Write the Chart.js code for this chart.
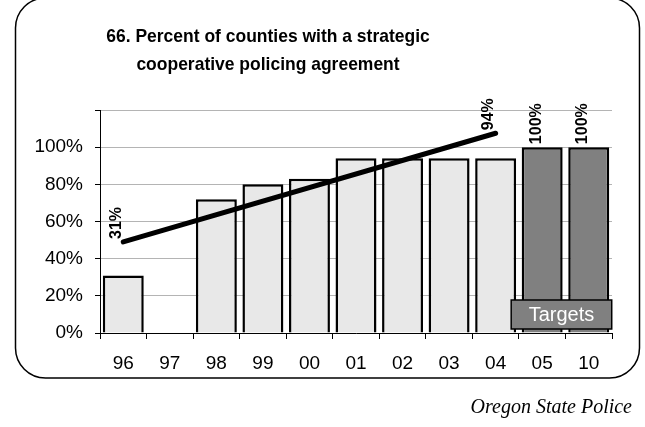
<!DOCTYPE html>
<html>
<head>
<meta charset="utf-8">
<script src="https://cdn.jsdelivr.net/npm/chart.js@4/dist/chart.umd.min.js"></script>
<style>
  html, body { margin: 0; padding: 0; background: #fff; }
  canvas { display: block; }
</style>
</head>
<body>
<canvas id="chart" width="645" height="427"></canvas>
<script>
const years = ['96', '97', '98', '99', '00', '01', '02', '03', '04', '05', '10'];
const actual = [31, null, 72, 80, 83, 94, 94, 94, 94, null, null];
const targets = [null, null, null, null, null, null, null, null, null, 100, 100];
const trend = [49, null, null, null, null, null, null, null, 107.5, null, null];
const valueLabels = ['31%', '', '', '', '', '', '', '', '94%', '100%', '100%'];
const yTicks = [0, 20, 40, 60, 80, 100];

const titleLines = ['66. Percent of counties with a strategic', 'cooperative policing agreement'];
const sourceText = 'Oregon State Police';

// frame, title, value labels, targets box, source line
const decorations = {
    id: 'decorations',
    beforeDraw(chart) {
        const ctx = chart.ctx;
        ctx.save();
        ctx.fillStyle = '#fff';
        ctx.fillRect(0, 0, chart.width, chart.height);
        ctx.strokeStyle = '#000';
        ctx.lineWidth = 1.5;
        ctx.beginPath();
        ctx.roundRect(15.5, -2, 624, 380, 30);
        ctx.stroke();

        // title is a bit condensed in the original
        ctx.fillStyle = '#000';
        ctx.font = 'bold 19px "Liberation Sans", Arial, sans-serif';
        ctx.textAlign = 'center';
        ctx.textBaseline = 'middle';
        ctx.save();
        ctx.translate(268, 0);
        ctx.scale(0.92, 1);
        ctx.fillText(titleLines[0], 0, 37);
        ctx.fillText(titleLines[1], 0, 65);
        ctx.restore();

        ctx.font = 'italic 20px "Liberation Serif", "Times New Roman", serif';
        ctx.textAlign = 'right';
        ctx.fillText(sourceText, 632, 408);
        ctx.restore();
    },
    afterDatasetsDraw(chart) {
        const ctx = chart.ctx;
        const x = chart.scales.x;
        const y = chart.scales.y;
        ctx.save();
        ctx.fillStyle = '#000';
        ctx.font = 'bold 16px "Liberation Sans", Arial, sans-serif';
        ctx.textAlign = 'left';
        ctx.textBaseline = 'middle';
        valueLabels.forEach((txt, i) => {
            if (!txt) return;
            let v = trend[i] != null ? trend[i] : targets[i];
            let px = x.getPixelForValue(i) - 6;
            let py = y.getPixelForValue(v) - 3;
            if (trend[i] != null) px = x.getPixelForValue(i) - 7;
            ctx.save();
            ctx.translate(px, py);
            ctx.rotate(-Math.PI / 2);
            ctx.fillText(txt, 0, 0);
            ctx.restore();
        });

        // Targets box
        const left = x.getPixelForValue(9) - 31;
        const right = x.getPixelForValue(10) + 23;
        ctx.fillStyle = '#808080';
        ctx.strokeStyle = '#000';
        ctx.lineWidth = 1.5;
        ctx.fillRect(left, 300, right - left, 29);
        ctx.strokeRect(left, 300, right - left, 29);
        ctx.fillStyle = '#fff';
        ctx.font = '20px "Liberation Sans", Arial, sans-serif';
        ctx.textAlign = 'center';
        ctx.fillText('Targets', (left + right) / 2, 315);
        ctx.restore();
    }
};

new Chart(document.getElementById('chart'), {
    data: {
        labels: years,
        datasets: [
            {
                type: 'line',
                data: trend,
                spanGaps: true,
                borderColor: '#000',
                borderWidth: 5,
                borderCapStyle: 'round',
                pointRadius: 0,
                order: 0
            },
            {
                type: 'bar',
                data: actual,
                backgroundColor: '#e8e8e8',
                borderColor: '#000',
                borderWidth: 2.5,
                barPercentage: 0.88,
                categoryPercentage: 1,
                grouped: false,
                order: 1
            },
            {
                type: 'bar',
                data: targets,
                backgroundColor: '#808080',
                borderColor: '#000',
                borderWidth: 2.5,
                barPercentage: 0.88,
                categoryPercentage: 1,
                grouped: false,
                order: 1
            }
        ]
    },
    options: {
        responsive: false,
        animation: false,
        layout: { padding: { top: 110, right: 33, left: 0, bottom: 0 } },
        plugins: { legend: { display: false }, tooltip: { enabled: false } },
        scales: {
            x: {
                offset: true,
                grid: { display: true, drawOnChartArea: false, offset: true, color: '#000', tickLength: 6, tickWidth: 1 },
                border: { color: '#000', width: 1 },
                ticks: { color: '#000', padding: 13, font: { size: 19, family: '"Liberation Sans", Arial, sans-serif' } },
                afterFit(scale) { scale.height = 94; }
            },
            y: {
                min: 0,
                max: 120,
                ticks: {
                    stepSize: 20,
                    color: '#000',
                    padding: 12,
                    font: { size: 19, family: '"Liberation Sans", Arial, sans-serif' },
                    callback: (v) => yTicks.includes(v) ? v + '%' : ''
                },
                grid: { color: '#b4b4b4', tickColor: '#000', tickLength: 5 },
                border: { color: '#000', width: 1 },
                afterFit(scale) { scale.width = 100; }
            }
        }
    },
    plugins: [decorations]
});
</script>
</body>
</html>
